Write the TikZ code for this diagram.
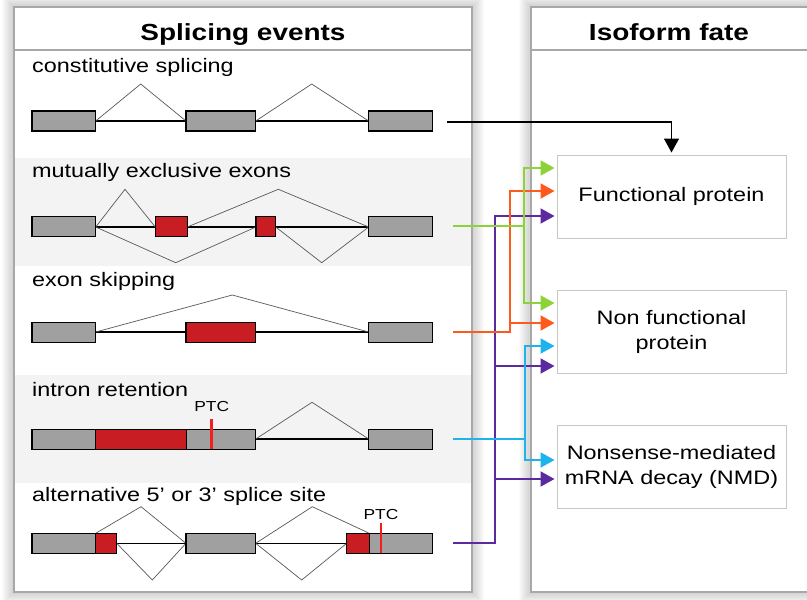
\documentclass[tikz,border=0pt]{standalone}
\usepackage{fontspec}
\setmainfont{Liberation Sans}[FakeStretch=1.2]
\usetikzlibrary{arrows.meta}
\definecolor{exgray}{HTML}{A0A0A0}
\definecolor{exred}{HTML}{C81E23}
\definecolor{ptcred}{HTML}{F51E1E}
\definecolor{cgreen}{HTML}{8CD33A}
\definecolor{corange}{HTML}{FF5A1E}
\definecolor{cpurple}{HTML}{5B2A9E}
\definecolor{ccyan}{HTML}{1EB4EB}
\definecolor{framegray}{HTML}{A8A8A8}
\definecolor{bandgray}{HTML}{F3F3F3}
\begin{document}
\begin{tikzpicture}[x=1pt,y=-1pt,
  esone/.style={draw=black,line width=1.2pt,fill=exgray},
  esrosso/.style={draw=black,line width=1.2pt,fill=exred},
  giunzione/.style={draw=black!65,line width=0.7pt},
  scheletro/.style={line width=1.3pt},
  ptc/.style={ptcred,line width=2.5pt},
  freccia/.style={line width=2pt,-{Triangle[length=14pt,width=15pt]},shorten >=2pt},
  destino/.style={draw=black!22,line width=1pt,minimum width=229pt,minimum height=83pt,
    align=center,inner sep=0pt,font=\fontsize{19.5}{25}\selectfont},
  etichetta/.style={anchor=base west,inner sep=0pt,font=\fontsize{19.5}{23}\selectfont},
  titolo/.style={anchor=base,inner sep=0pt,font=\fontsize{23.3}{28}\selectfont\bfseries},
  ptclab/.style={anchor=base,inner sep=0pt,font=\fontsize{14.5}{17}\selectfont}]
\useasboundingbox (0,0) rectangle (807,600);
%ombre
\foreach \i in {1,...,12} {
  \fill[black,opacity=0.016] (14-\i,7-\i) rectangle (472+\i,592+\i);
  \fill[black,opacity=0.016] (531-\i,7-\i) rectangle (830,592+\i);
}
\fill[white] (14,7) rectangle (472,592);
\fill[white] (531,7) rectangle (830,592);
%fasce
\fill[bandgray] (15,158) rectangle (471,266);
\fill[bandgray] (15,375) rectangle (471,483);
%pannelli
\draw[framegray,line width=2pt] (14,7) rectangle (472,592);
\draw[framegray,line width=1.5pt] (14,50) -- (472,50);
\draw[framegray,line width=2pt] (531,7) rectangle (830,592);
\draw[framegray,line width=1.5pt] (531,50) -- (830,50);
\node[titolo] (t1) at (243,40) {Splicing events};
\node[titolo] (t2) at (669,40) {Isoform fate};
%etichette
\node[etichetta] (l1) at (32,72) {constitutive splicing};
\node[etichetta] (l2) at (32,177) {mutually exclusive exons};
\node[etichetta] (l3) at (32,286.7) {exon skipping};
\node[etichetta] (l4) at (32,396) {intron retention};
\node[etichetta] (l5) at (32,501.7) {alternative 5’ or 3’ splice site};
%costitutivo
\draw[scheletro] (95.7,121) -- (368.7,121);
\draw[giunzione] (95.7,121) -- (140.7,84) -- (186,121) (255.7,121) -- (311.7,84) -- (368.7,121);
\draw[esone] (32,111) rectangle (95.7,131);
\draw[esone] (186,111) rectangle (255.7,131);
\draw[esone] (368.7,111) rectangle (432.3,131);
%mutuamente esclusivi
\draw[scheletro] (95.7,227) -- (368.7,227);
\draw[giunzione] (95.7,227) -- (125,189.3) -- (155.3,227) (187.3,227) -- (278.3,189.3) -- (368.7,227);
\draw[giunzione] (95.7,227) -- (175.7,262.7) -- (256,227) (275.7,227) -- (321.7,262.7) -- (368.7,227);
\draw[esone] (32,216.7) rectangle (95.7,236.7);
\draw[esrosso] (155.3,216.7) rectangle (187.3,236.7);
\draw[esrosso] (256,216.7) rectangle (275.7,236.7);
\draw[esone] (368.7,216.7) rectangle (432.3,236.7);
%salto esone
\draw[scheletro] (95.7,332) -- (368.7,332);
\draw[giunzione] (95.7,332) -- (232.3,295) -- (368.7,332);
\draw[esone] (32,322.3) rectangle (95.7,342.3);
\draw[esrosso] (186,322.3) rectangle (255.7,342.3);
\draw[esone] (368.7,322.3) rectangle (432.3,342.3);
%ritenzione introne
\draw[scheletro] (255.7,439) -- (368.7,439);
\draw[giunzione] (255.7,439) -- (312,402.3) -- (368.7,439);
\draw[esone] (32,429.3) rectangle (95.7,449.3);
\draw[esrosso] (95.7,429.3) rectangle (186.7,449.3);
\draw[esone] (186.7,429.3) rectangle (255.7,449.3);
\draw[esone] (368.7,429.3) rectangle (432.3,449.3);
\draw[ptc] (211.7,419) -- (211.7,449.3);
\node[ptclab] (p1) at (211.7,411.7) {PTC};
%siti alternativi
\draw[scheletro] (95.7,543.3) -- (368.7,543.3);
\draw[giunzione] (95.7,533.3) -- (141,506.7) -- (186,543.3) (255.7,543.3) -- (312.3,506.7) -- (369.3,533.3);
\draw[giunzione] (116.7,543.3) -- (152.3,580) -- (186,543.3) (255.7,543.3) -- (301.7,580) -- (346.7,543.3);
\draw[esone] (32,533.3) rectangle (95.7,553.3);
\draw[esrosso] (95.7,533.3) rectangle (116.7,553.3);
\draw[esone] (186,533.3) rectangle (255.7,553.3);
\draw[esrosso] (346.7,533.3) rectangle (369.3,553.3);
\draw[esone] (369.3,533.3) rectangle (432.3,553.3);
\draw[ptc] (381,523.3) -- (381,553.3);
\node[ptclab] (p2) at (381,519.3) {PTC};
%destini
\node[destino] (fp) at (671.5,196.5) {\raisebox{-3pt}{Functional protein}};
\node[destino] (nfp) at (671.5,332) {\raisebox{-4pt}{Non functional}\\\raisebox{-4pt}{protein}};
\node[destino] (nmd) at (671.5,466.5) {Nonsense-mediated\\mRNA decay (NMD)};
%uscite
\coordinate (cs) at (447,121.7);
\coordinate (mx) at (453,226);
\coordinate (es) at (453,331.7);
\coordinate (ir) at (453,439);
\coordinate (as) at (453,543);
%frecce
\draw[freccia,cpurple] (as) -| (495,216) -- (fp.west |- 0,216);
\draw[freccia,cpurple] (as) -| (495,366) -- (nfp.west |- 0,366);
\draw[freccia,cpurple] (as) -| (495,479) -- (nmd.west |- 0,479);
\draw[freccia,corange] (es) -| (510,191) -- (fp.west |- 0,191);
\draw[freccia,corange] (es) -| (510,323) -- (nfp.west |- 0,323);
\draw[freccia,cgreen] (mx) -| (524,168) -- (fp.west |- 0,168);
\draw[freccia,cgreen] (mx) -| (524,303) -- (nfp.west |- 0,303);
\draw[freccia,ccyan] (ir) -| (525,346) -- (nfp.west |- 0,346);
\draw[freccia,ccyan] (ir) -| (525,460) -- (nmd.west |- 0,460);
\draw[freccia,black,line width=1.6pt] (cs) -| (fp.north);
\end{tikzpicture}
\end{document}
